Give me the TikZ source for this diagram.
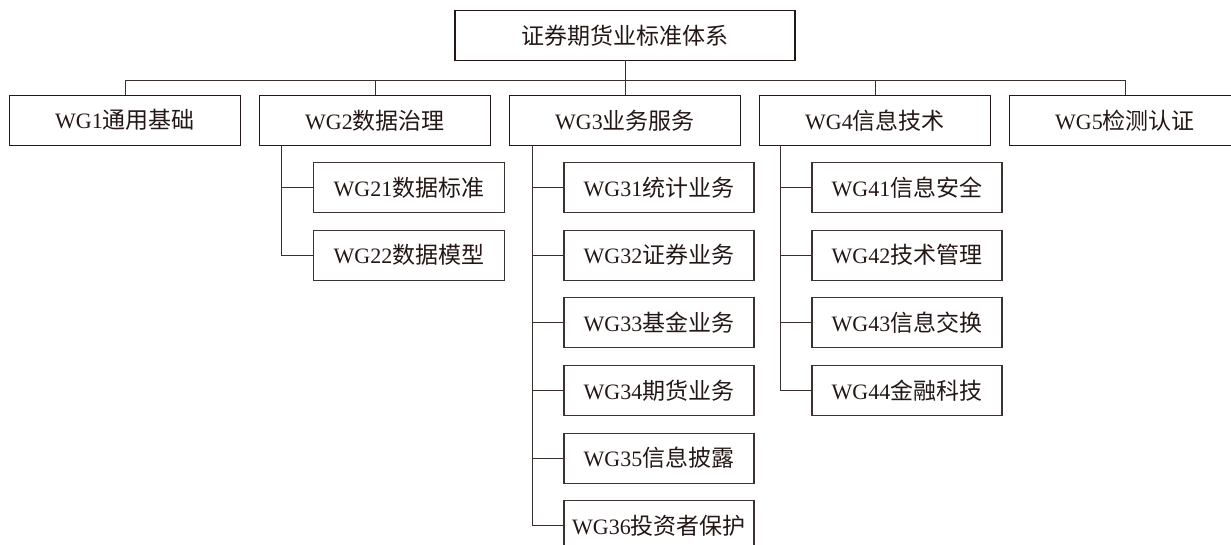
\documentclass[tikz,border=0pt]{standalone}
\usepackage{fontspec}
\setmainfont{Liberation Serif}
\newfontfamily\cjkfont{Noto Sans CJK SC}
\newcommand\lbl[2]{#1{\cjkfont\fontsize{23}{26}\selectfont #2}}
\definecolor{ink}{HTML}{231815}
\definecolor{subink}{HTML}{3A3330}
\begin{document}
\begin{tikzpicture}[x=1pt,y=-1pt,
  every node/.style={inner sep=0pt, outer sep=0pt, anchor=center, text=ink,
    font=\fontsize{22}{26}\selectfont},
  topbox/.style={draw=ink, line width=1.1pt, minimum width=231pt, minimum height=50pt},
  rootbox/.style={draw=ink, line width=1.1pt, minimum width=340pt, minimum height=49.5pt},
  subbox/.style={draw=subink, line width=1.1pt, minimum width=190pt, minimum height=50pt},
  link/.style={draw=ink!90, line width=1.0pt}]
\clip (0,0) rectangle (1231,545);
% root
\node[rootbox] (root) at (625,35.5) {\lbl{}{证券期货业标准体系}};
% level 1
\node[topbox] (g1) at (125,120.3) {\lbl{WG1}{通用基础}};
\node[topbox] (g2) at (375,120.3) {\lbl{WG2}{数据治理}};
\node[topbox] (g3) at (625,120.3) {\lbl{WG3}{业务服务}};
\node[topbox] (g4) at (875,120.3) {\lbl{WG4}{信息技术}};
\node[topbox] (g5) at (1125,120.3) {\lbl{WG5}{检测认证}};
\coordinate (bus) at (625,80.3);
\draw[link] (root.south) -- (g3.north);
\draw[link] (g1.north) |- (bus);
\draw[link] (g2.north) |- (bus);
\draw[link] (g4.north) |- (bus);
\draw[link] (g5.north) |- (bus);
% WG2 children
\node[subbox, minimum width=191pt] (s21) at (409,187.5) {\lbl{WG21}{数据标准}};
\node[subbox, minimum width=191pt] (s22) at (409,255.1) {\lbl{WG22}{数据模型}};
\coordinate (v2) at (281.6,145.3);
\draw[link] (s21.west) -- (s21.west -| v2);
\draw[link] (v2) |- (s22.west);
% WG3 children
\node[subbox] (s31) at (659,187.5) {\lbl{WG31}{统计业务}};
\node[subbox] (s32) at (659,255.1) {\lbl{WG32}{证券业务}};
\node[subbox] (s33) at (659,322.8) {\lbl{WG33}{基金业务}};
\node[subbox] (s34) at (659,390.4) {\lbl{WG34}{期货业务}};
\node[subbox] (s35) at (659,458.1) {\lbl{WG35}{信息披露}};
\node[subbox] (s36) at (659,525.7) {\lbl{WG36}{投资者保护}};
\coordinate (v3) at (532.6,145.3);
\foreach \n in {s31,s32,s33,s34,s35}{\draw[link] (\n.west) -- (\n.west -| v3);}
\draw[link] (v3) |- (s36.west);
% WG4 children
\node[subbox] (s41) at (907,187.5) {\lbl{WG41}{信息安全}};
\node[subbox] (s42) at (907,255.1) {\lbl{WG42}{技术管理}};
\node[subbox] (s43) at (907,322.8) {\lbl{WG43}{信息交换}};
\node[subbox] (s44) at (907,390.4) {\lbl{WG44}{金融科技}};
\coordinate (v4) at (780.5,145.3);
\foreach \n in {s41,s42,s43}{\draw[link] (\n.west) -- (\n.west -| v4);}
\draw[link] (v4) |- (s44.west);
\end{tikzpicture}
\end{document}
